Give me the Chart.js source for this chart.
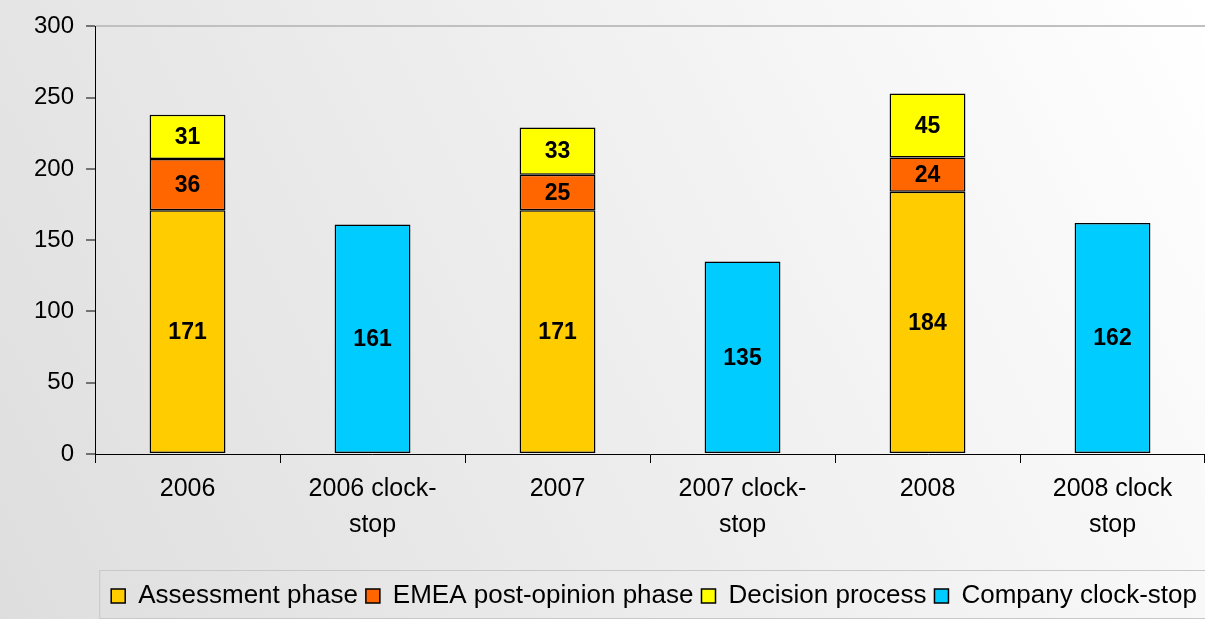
<!DOCTYPE html>
<html>
<head>
<meta charset="utf-8">
<script src="https://cdn.jsdelivr.net/npm/chart.js@4.4.0/dist/chart.umd.min.js"></script>
<style>
  html, body { margin: 0; padding: 0; background: #fff; }
  #grafico { display: block; }
</style>
</head>
<body>
<canvas id="grafico" width="1205" height="619"></canvas>
<script>
// datos
const categorias = [['2006'], ['2006 clock-', 'stop'], ['2007'], ['2007 clock-', 'stop'], ['2008'], ['2008 clock', 'stop']];
const evaluacion = [171, null, 171, null, 184, null];
const postOpinion = [36, null, 25, null, 24, null];
const decision = [31, null, 33, null, 45, null];
const clockStop = [null, 161, null, 135, null, 162];
const ticksY = [0, 50, 100, 150, 200, 250, 300];

const fuente = "'Liberation Sans', Arial, sans-serif";

// fondo degradado
const fondo = {
    id: 'fondo',
    beforeDraw(chart) {
        const ctx = chart.ctx;
        const g = ctx.createLinearGradient(0, chart.height, chart.width, 0);
        g.addColorStop(0, '#dedede');
        g.addColorStop(0.5, '#eeeeee');
        g.addColorStop(1, '#ffffff');
        ctx.save();
        ctx.fillStyle = g;
        ctx.fillRect(0, 0, chart.width, chart.height);
        ctx.restore();
    }
};

// etiquetas dentro de las barras
const etiquetas = {
    id: 'etiquetas',
    afterDatasetsDraw(chart) {
        const ctx = chart.ctx;
        ctx.save();
        ctx.font = 'bold 23px ' + fuente;
        ctx.fillStyle = '#000';
        ctx.textAlign = 'center';
        ctx.textBaseline = 'middle';
        chart.data.datasets.forEach((ds, i) => {
            chart.getDatasetMeta(i).data.forEach((bar, j) => {
                const v = ds.data[j];
                if (v == null) return;
                ctx.fillText(v, bar.x, (bar.y + bar.base) / 2 + 1);
            });
        });
        ctx.restore();
    }
};

// marco de la leyenda
const marcoLeyenda = {
    id: 'marcoLeyenda',
    afterDraw(chart) {
        const cajas = chart.legend.legendHitBoxes;
        if (!cajas || !cajas.length) return;
        const ctx = chart.ctx;
        const izq = cajas[0].left - 12;
        const der = cajas[cajas.length - 1].left + cajas[cajas.length - 1].width + 8;
        const arr = cajas[0].top - 13;
        ctx.save();
        ctx.strokeStyle = '#c8c8c8';
        ctx.lineWidth = 1;
        ctx.strokeRect(izq + 0.5, arr + 0.5, der - izq, chart.height - arr - 1);
        ctx.restore();
    }
};

function serie(nombre, datos, color) {
    return {
        label: nombre,
        data: datos,
        backgroundColor: color,
        borderColor: '#000',
        borderWidth: 1.5,
        borderSkipped: false,
        stack: 'a'
    };
}

const ctx = document.getElementById('grafico');
const myChart = new Chart(ctx, {
    type: 'bar',
    data: {
        labels: categorias,
        datasets: [
            serie('Assessment phase', evaluacion, '#ffcc00'),
            serie('EMEA post-opinion phase', postOpinion, '#ff6600'),
            serie('Decision process', decision, '#ffff00'),
            serie('Company clock-stop', clockStop, '#00ccff')
        ]
    },
    options: {
        responsive: false,
        animation: false,
        categoryPercentage: 1,
        barPercentage: 0.41,
        layout: { padding: { left: 22, right: 0, top: 12, bottom: 0 } },
        plugins: {
            legend: {
                position: 'bottom',
                align: 'end',
                labels: {
                    font: { family: fuente, size: 26 },
                    color: '#000',
                    boxWidth: 14,
                    boxHeight: 14,
                    padding: 8
                }
            },
            tooltip: { enabled: false }
        },
        scales: {
            x: {
                stacked: true,
                afterFit(axis) { axis.height += 24; },
                grid: {
                    offset: true,
                    drawOnChartArea: false,
                    tickLength: 9,
                    tickColor: '#000'
                },
                border: { color: '#000', width: 1 },
                ticks: {
                    font: { family: fuente, size: 25, lineHeight: 1.44 },
                    color: '#000',
                    padding: 8,
                    maxRotation: 0,
                    autoSkip: false
                }
            },
            y: {
                stacked: true,
                min: 0,
                max: 300,
                afterBuildTicks(axis) {
                    axis.ticks = ticksY.map(v => ({ value: v }));
                },
                grid: {
                    color: c => c.tick && c.tick.value === 300 ? '#c0c0c0' : 'rgba(0,0,0,0)',
                    lineWidth: 2,
                    tickLength: 9,
                    tickColor: '#000',
                    tickWidth: 1
                },
                border: { color: '#000', width: 1 },
                ticks: {
                    font: { family: fuente, size: 24 },
                    color: '#000',
                    padding: 12
                }
            }
        }
    },
    plugins: [fondo, etiquetas, marcoLeyenda]
});
</script>
</body>
</html>
